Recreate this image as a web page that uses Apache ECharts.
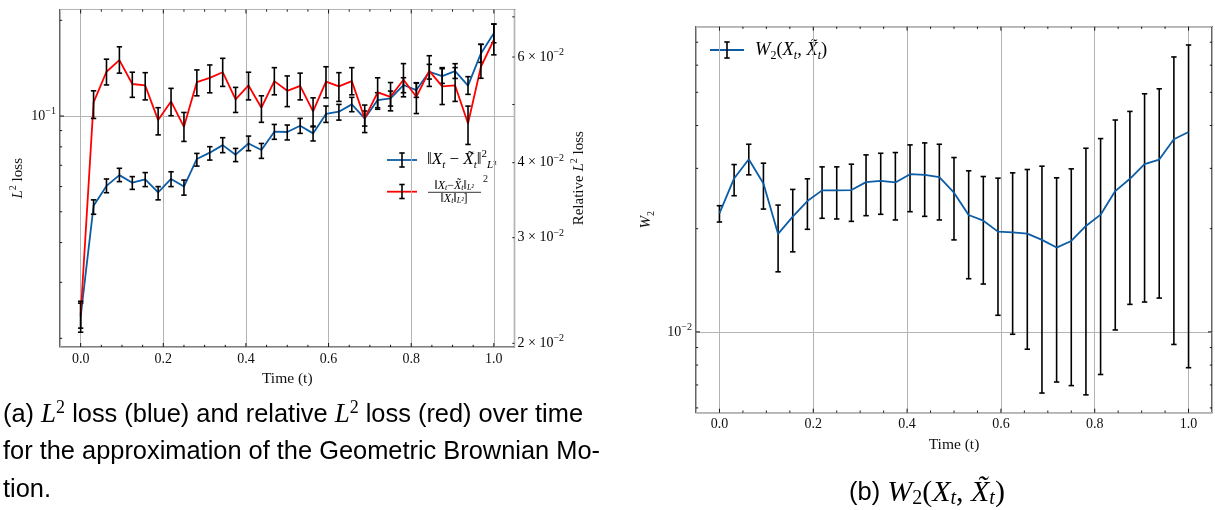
<!DOCTYPE html>
<html>
<head>
<meta charset="utf-8">
<script src="https://cdn.jsdelivr.net/npm/echarts@6/dist/echarts.min.js"></script>
<style>
html, body { margin: 0; padding: 0; background: #fff; }
#main { width: 1215px; height: 510px; }
</style>
</head>
<body>
<div id="main"></div>
<script>
// time grid t = k/32
var times = [0, 0.03125, 0.0625, 0.09375, 0.125, 0.15625, 0.1875, 0.21875, 0.25, 0.28125,
    0.3125, 0.34375, 0.375, 0.40625, 0.4375, 0.46875, 0.5, 0.53125, 0.5625, 0.59375,
    0.625, 0.65625, 0.6875, 0.71875, 0.75, 0.78125, 0.8125, 0.84375, 0.875, 0.90625,
    0.9375, 0.96875, 1];

// (a) L2 loss (blue, left axis)
var l2Loss = [0.0234, 0.0522, 0.0603, 0.0652, 0.0617, 0.0632, 0.0575, 0.0634, 0.0600, 0.0733,
    0.0767, 0.0810, 0.0756, 0.0820, 0.0782, 0.0893, 0.0891, 0.0932, 0.0882, 0.1015,
    0.1032, 0.1088, 0.0983, 0.1123, 0.1137, 0.1252, 0.1207, 0.1378, 0.1336, 0.1385,
    0.1246, 0.1574, 0.1820];
var l2Lo = [0.0209, 0.0491, 0.0574, 0.0622, 0.0588, 0.0600, 0.0545, 0.0600, 0.0564, 0.0696,
    0.0727, 0.0767, 0.0719, 0.0778, 0.0736, 0.0845, 0.0841, 0.0882, 0.0835, 0.0955,
    0.0971, 0.1032, 0.0930, 0.1062, 0.1075, 0.1184, 0.1145, 0.1307, 0.1267, 0.1313,
    0.1170, 0.1475, 0.1700];
var l2Hi = [0.0258, 0.0545, 0.0634, 0.0685, 0.0645, 0.0664, 0.0600, 0.0668, 0.0629, 0.0763,
    0.0801, 0.0855, 0.0791, 0.0865, 0.0820, 0.0941, 0.0937, 0.0983, 0.0930, 0.1075,
    0.1088, 0.1145, 0.1037, 0.1184, 0.1198, 0.1320, 0.1273, 0.1454, 0.1409, 0.1461,
    0.1330, 0.1680, 0.1946];

// (a) relative L2 loss (red, right axis)
var relLoss = [0.0223, 0.0504, 0.0567, 0.0593, 0.0541, 0.0538, 0.0471, 0.0506, 0.0459, 0.0545,
    0.0554, 0.0566, 0.0510, 0.0538, 0.0494, 0.0547, 0.0527, 0.0537, 0.0487, 0.0546,
    0.0536, 0.0547, 0.0474, 0.0524, 0.0515, 0.0550, 0.0515, 0.0569, 0.0536, 0.0538,
    0.0465, 0.0578, 0.0641];
var relLo = [0.0212, 0.0474, 0.0539, 0.0564, 0.0514, 0.0509, 0.0445, 0.0479, 0.0434, 0.0517,
    0.0523, 0.0536, 0.0485, 0.0509, 0.0467, 0.0519, 0.0496, 0.0509, 0.0459, 0.0513,
    0.0506, 0.0519, 0.0449, 0.0491, 0.0488, 0.0515, 0.0483, 0.0536, 0.0500, 0.0506,
    0.0429, 0.0553, 0.0605];
var relHi = [0.0235, 0.0527, 0.0595, 0.0624, 0.0566, 0.0565, 0.0494, 0.0532, 0.0485, 0.0571,
    0.0582, 0.0597, 0.0534, 0.0566, 0.0517, 0.0576, 0.0558, 0.0564, 0.0513, 0.0578,
    0.0565, 0.0576, 0.0499, 0.0554, 0.0544, 0.0585, 0.0543, 0.0603, 0.0576, 0.0576,
    0.0497, 0.0630, 0.0681];

// (b) W2 distance
var w2 = [0.02218, 0.02803, 0.0319, 0.02711, 0.01931, 0.02169, 0.02408, 0.02587, 0.02587, 0.02593,
    0.02735, 0.02759, 0.02729, 0.02885, 0.02873, 0.02828, 0.02547, 0.02193, 0.02111, 0.01961,
    0.01952, 0.01934, 0.01855, 0.01762, 0.01842, 0.02037, 0.02198, 0.02575, 0.02797, 0.03085,
    0.03183, 0.03647, 0.0383];
var w2Lo = [0.02092, 0.02496, 0.02872, 0.02282, 0.01497, 0.01712, 0.01992, 0.02145, 0.02135, 0.02101,
    0.02183, 0.02203, 0.02121, 0.02242, 0.02173, 0.02121, 0.01855, 0.01429, 0.01379, 0.01118,
    0.00984, 0.0089, 0.00663, 0.00714, 0.00697, 0.00655, 0.00751, 0.01013, 0.01203, 0.01222,
    0.01255, 0.00919, 0.00786];
var w2Hi = [0.02334, 0.03078, 0.03527, 0.03106, 0.02344, 0.02604, 0.02797, 0.0303, 0.0303, 0.03085,
    0.03284, 0.0332, 0.03336, 0.03512, 0.03559, 0.03527, 0.03226, 0.02951, 0.0284, 0.02809,
    0.02911, 0.02977, 0.03044, 0.02815, 0.0299, 0.03434, 0.03664, 0.04151, 0.04398, 0.04951,
    0.05119, 0.06341, 0.06872];

// ticks
var xMajor = [0, 0.2, 0.4, 0.6, 0.8, 1.0];
var xMinor = [0.05, 0.1, 0.15, 0.25, 0.3, 0.35, 0.45, 0.5, 0.55, 0.65, 0.7, 0.75, 0.85, 0.9, 0.95];
var l2Major = [0.1];
var l2Minor = [0.02, 0.03, 0.04, 0.05, 0.06, 0.07, 0.08, 0.09, 0.2];
var relMinor = [0.02, 0.03, 0.04, 0.05, 0.06, 0.07];
var relLabelVals = [0.02, 0.03, 0.04, 0.06];
var relLabelText = ['2', '3', '4', '6'];
var w2Major = [0.01];
var w2Minor = [0.006, 0.007, 0.008, 0.009, 0.02, 0.03, 0.04, 0.05, 0.06, 0.07];

var SERIF = '"Liberation Serif", "DejaVu Serif", serif';
var SANS = '"Liberation Sans", Arial, sans-serif';
var BLUE = '#0C5DA5';
var RED = '#FF0000';
var TXT = '#111';

var tickRich = {
    n: { fontFamily: SERIF, fontSize: 14, lineHeight: 19, color: TXT },
    i: { fontFamily: SERIF, fontSize: 14, fontStyle: 'italic', lineHeight: 19, color: TXT },
    sp: { fontFamily: SERIF, fontSize: 10, lineHeight: 10, verticalAlign: 'top', color: TXT },
    sb: { fontFamily: SERIF, fontSize: 10, lineHeight: 11, verticalAlign: 'bottom', color: TXT },
    sbi: { fontFamily: SERIF, fontSize: 10, fontStyle: 'italic', lineHeight: 11, verticalAlign: 'bottom', color: TXT }
};
var nameRich = {
    n: { fontFamily: SERIF, fontSize: 15, lineHeight: 20, color: TXT },
    i: { fontFamily: SERIF, fontSize: 15, fontStyle: 'italic', lineHeight: 20, color: TXT },
    sp: { fontFamily: SERIF, fontSize: 10, lineHeight: 10, verticalAlign: 'top', color: TXT },
    sb: { fontFamily: SERIF, fontSize: 10, lineHeight: 11, verticalAlign: 'bottom', color: TXT }
};
var legRich = {
    n: { fontFamily: SERIF, fontSize: 17, lineHeight: 22, color: TXT },
    i: { fontFamily: SERIF, fontSize: 17, fontStyle: 'italic', lineHeight: 22, color: TXT },
    sp: { fontFamily: SERIF, fontSize: 11, lineHeight: 11, verticalAlign: 'top', color: TXT },
    sb: { fontFamily: SERIF, fontSize: 11, lineHeight: 12, verticalAlign: 'bottom', color: TXT },
    sbi: { fontFamily: SERIF, fontSize: 11, fontStyle: 'italic', lineHeight: 12, verticalAlign: 'bottom', color: TXT }
};
var legRichB = {
    n: { fontFamily: SERIF, fontSize: 18.5, lineHeight: 23, color: TXT },
    i: { fontFamily: SERIF, fontSize: 18.5, fontStyle: 'italic', lineHeight: 23, color: TXT },
    sb: { fontFamily: SERIF, fontSize: 12, lineHeight: 12, verticalAlign: 'bottom', color: TXT },
    sbi: { fontFamily: SERIF, fontSize: 12, fontStyle: 'italic', lineHeight: 12, verticalAlign: 'bottom', color: TXT }
};
var fracRich = {
    n: { fontFamily: SERIF, fontSize: 12, lineHeight: 13, color: TXT },
    i: { fontFamily: SERIF, fontSize: 12, fontStyle: 'italic', lineHeight: 13, color: TXT },
    sbi: { fontFamily: SERIF, fontSize: 8, fontStyle: 'italic', lineHeight: 8, verticalAlign: 'bottom', color: TXT }
};

function pairs(xs, ys) {
    return xs.map(function (x, i) { return [x, ys[i]]; });
}
function triples(xs, lo, hi) {
    return xs.map(function (x, i) { return [x, lo[i], hi[i]]; });
}

function renderErrorBar(params, api) {
    var top = api.coord([api.value(0), api.value(2)]);
    var bot = api.coord([api.value(0), api.value(1)]);
    var w = 2.7;
    var st = { stroke: '#000', lineWidth: 1.6 };
    return {
        type: 'group',
        children: [
            { type: 'line', shape: { x1: top[0], y1: top[1], x2: bot[0], y2: bot[1] }, style: st },
            { type: 'line', shape: { x1: top[0] - w, y1: top[1], x2: top[0] + w, y2: top[1] }, style: st },
            { type: 'line', shape: { x1: bot[0] - w, y1: bot[1], x2: bot[0] + w, y2: bot[1] }, style: st }
        ]
    };
}

function xTickSeries(ai, yRef) {
    var data = xMajor.map(function (v) { return [v, yRef, 1]; })
        .concat(xMinor.map(function (v) { return [v, yRef, 0]; }));
    return {
        type: 'custom', xAxisIndex: ai, yAxisIndex: ai === 0 ? 0 : 2, silent: true, z: 20,
        data: data,
        renderItem: function (params, api) {
            var cs = params.coordSys;
            var x = api.coord([api.value(0), api.value(1)])[0];
            var len = api.value(2) ? 4 : 2.2;
            var st = { stroke: '#000', lineWidth: 0.9 };
            var b = cs.y + cs.height;
            return {
                type: 'group',
                children: [
                    { type: 'line', shape: { x1: x, y1: b, x2: x, y2: b - len }, style: st },
                    { type: 'line', shape: { x1: x, y1: cs.y, x2: x, y2: cs.y + len }, style: st }
                ]
            };
        }
    };
}

function yTickSeries(xi, yi, major, minor, sides, labelVals, labelText) {
    var data = major.map(function (v) { return [0.5, v, 1]; })
        .concat(minor.map(function (v) { return [0.5, v, 0]; }));
    return {
        type: 'custom', xAxisIndex: xi, yAxisIndex: yi, silent: true, z: 20,
        data: data,
        renderItem: function (params, api) {
            var cs = params.coordSys;
            var v = api.value(1);
            var y = api.coord([api.value(0), v])[1];
            var len = api.value(2) ? 4 : 2.2;
            var st = { stroke: '#000', lineWidth: 0.9 };
            var kids = [];
            if (sides.indexOf('left') >= 0) {
                kids.push({ type: 'line', shape: { x1: cs.x, y1: y, x2: cs.x + len, y2: y }, style: st });
            }
            if (sides.indexOf('right') >= 0) {
                var r = cs.x + cs.width;
                kids.push({ type: 'line', shape: { x1: r, y1: y, x2: r - len, y2: y }, style: st });
            }
            if (labelVals) {
                for (var k = 0; k < labelVals.length; k++) {
                    if (Math.abs(labelVals[k] - v) < 1e-9) {
                        kids.push({
                            type: 'text', x: cs.x + cs.width + 3, y: y,
                            style: {
                                text: '{n|' + labelText[k] + ' × 10}{sp|−2}', rich: tickRich,
                                align: 'left', verticalAlign: 'middle',
                                textAlign: 'left', textVerticalAlign: 'middle'
                            }
                        });
                    }
                }
            }
            return { type: 'group', children: kids };
        }
    };
}

function xAxisCfg(gi, gap) {
    return {
        type: 'value', gridIndex: gi, min: -0.05, max: 1.05,
        axisLine: { show: false }, axisTick: { show: false },
        splitLine: { show: true, lineStyle: { color: '#b4b4b4', width: 1 } },
        axisLabel: {
            margin: 5, color: TXT, fontFamily: SERIF, fontSize: 14,
            formatter: function (v) {
                if (Math.abs(v * 5 - Math.round(v * 5)) > 1e-6) return '';
                return v.toFixed(1);
            }
        },
        name: 'Time (t)', nameLocation: 'middle', nameGap: gap,
        nameTextStyle: { color: TXT, fontFamily: SERIF, fontSize: 15.5 }
    };
}

function logLabel(v) {
    var e = Math.log10(v);
    if (Math.abs(e - Math.round(e)) > 1e-6) return '';
    return '{n|10}{sp|−' + Math.abs(Math.round(e)) + '}';
}

var option = {
    animation: false,
    backgroundColor: '#fff',
    grid: [
        { left: 60, top: 9.5, width: 454.5, height: 337.5, show: true, borderColor: '#000', borderWidth: 1.2, backgroundColor: 'transparent' },
        { left: 696, top: 26.7, width: 518, height: 386, show: true, borderColor: '#000', borderWidth: 1.2, backgroundColor: 'transparent' }
    ],
    xAxis: [xAxisCfg(0, 14), xAxisCfg(1, 21)],
    yAxis: [
        {
            type: 'log', logBase: 10, gridIndex: 0, min: 0.01878, max: 0.2163,
            axisLine: { show: false }, axisTick: { show: false },
            splitLine: { show: true, lineStyle: { color: '#b4b4b4', width: 1 } },
            axisLabel: { margin: 4, formatter: logLabel, rich: tickRich },
            name: '{i|L}{sp|2}{n| loss}', nameLocation: 'middle', nameGap: 32, nameRotate: 90,
            nameTextStyle: { rich: nameRich }
        },
        {
            type: 'log', logBase: 10, gridIndex: 0, position: 'right', min: 0.01972, max: 0.0720,
            axisLine: { show: false }, axisTick: { show: false }, axisLabel: { show: false },
            splitLine: { show: false },
            name: '{n|Relative }{i|L}{sp|2}{n| loss}', nameLocation: 'middle', nameGap: 55, nameRotate: 90,
            nameTextStyle: { rich: nameRich }
        },
        {
            type: 'log', logBase: 10, gridIndex: 1, min: 0.00581, max: 0.0777,
            axisLine: { show: false }, axisTick: { show: false },
            splitLine: { show: true, lineStyle: { color: '#b4b4b4', width: 1 } },
            axisLabel: { margin: 4, formatter: logLabel, rich: tickRich },
            name: '{i|W}{sb|2}', nameLocation: 'middle', nameGap: 40, nameRotate: 90,
            nameTextStyle: { rich: nameRich }
        }
    ],
    series: [
        {
            name: 'l2', type: 'line', xAxisIndex: 0, yAxisIndex: 0, data: pairs(times, l2Loss),
            showSymbol: false, lineStyle: { color: BLUE, width: 1.8 }, itemStyle: { color: BLUE }, z: 2
        },
        {
            type: 'custom', xAxisIndex: 0, yAxisIndex: 0, data: triples(times, l2Lo, l2Hi),
            encode: { x: 0, y: [1, 2] }, renderItem: renderErrorBar, z: 3
        },
        {
            name: 'rel', type: 'line', xAxisIndex: 0, yAxisIndex: 1, data: pairs(times, relLoss),
            showSymbol: false, lineStyle: { color: RED, width: 1.8 }, itemStyle: { color: RED }, z: 4
        },
        {
            type: 'custom', xAxisIndex: 0, yAxisIndex: 1, data: triples(times, relLo, relHi),
            encode: { x: 0, y: [1, 2] }, renderItem: renderErrorBar, z: 5
        },
        {
            name: 'w2', type: 'line', xAxisIndex: 1, yAxisIndex: 2, data: pairs(times, w2),
            showSymbol: false, lineStyle: { color: BLUE, width: 1.8 }, itemStyle: { color: BLUE }, z: 4
        },
        {
            type: 'custom', xAxisIndex: 1, yAxisIndex: 2, data: triples(times, w2Lo, w2Hi),
            encode: { x: 0, y: [1, 2] }, renderItem: renderErrorBar, z: 3
        },
        xTickSeries(0, 0.05),
        xTickSeries(1, 0.02),
        yTickSeries(0, 0, l2Major, l2Minor, ['left']),
        yTickSeries(0, 1, [], relMinor, ['right'], relLabelVals, relLabelText),
        yTickSeries(1, 2, w2Major, w2Minor, ['left', 'right'])
    ],
    graphic: [
        // legend (a)
        { type: 'line', shape: { x1: 387, y1: 160, x2: 417, y2: 160 }, style: { stroke: BLUE, lineWidth: 1.8 } },
        { type: 'line', shape: { x1: 402, y1: 153, x2: 402, y2: 167 }, style: { stroke: '#000', lineWidth: 1.6 } },
        { type: 'line', shape: { x1: 399.3, y1: 153, x2: 404.7, y2: 153 }, style: { stroke: '#000', lineWidth: 1.6 } },
        { type: 'line', shape: { x1: 399.3, y1: 167, x2: 404.7, y2: 167 }, style: { stroke: '#000', lineWidth: 1.6 } },
        {
            type: 'text', x: 427, y: 160,
            style: {
                text: '{n|‖}{i|X}{sbi|t}{n| − }{i|X̃}{sbi|t}{n|‖}{sp|2}{sbi|L}{sb|²}', rich: legRich,
                align: 'left', verticalAlign: 'middle', textAlign: 'left', textVerticalAlign: 'middle'
            }
        },
        { type: 'line', shape: { x1: 387, y1: 191.7, x2: 417, y2: 191.7 }, style: { stroke: RED, lineWidth: 1.8 } },
        { type: 'line', shape: { x1: 402, y1: 184.5, x2: 402, y2: 198.5 }, style: { stroke: '#000', lineWidth: 1.6 } },
        { type: 'line', shape: { x1: 399.3, y1: 184.5, x2: 404.7, y2: 184.5 }, style: { stroke: '#000', lineWidth: 1.6 } },
        { type: 'line', shape: { x1: 399.3, y1: 198.5, x2: 404.7, y2: 198.5 }, style: { stroke: '#000', lineWidth: 1.6 } },
        {
            type: 'text', x: 454, y: 185.5,
            style: {
                text: '{n|‖}{i|X}{sbi|t}{n|−}{i|X̃}{sbi|t}{n|‖}{sbi|L²}', rich: fracRich,
                align: 'center', verticalAlign: 'middle', textAlign: 'center', textVerticalAlign: 'middle'
            }
        },
        { type: 'line', shape: { x1: 428, y1: 192.3, x2: 481, y2: 192.3 }, style: { stroke: '#000', lineWidth: 0.8 } },
        {
            type: 'text', x: 454, y: 198.5,
            style: {
                text: '{n|‖}{i|X}{sbi|t}{n|‖}{sbi|L²}{n|]}', rich: fracRich,
                align: 'center', verticalAlign: 'middle', textAlign: 'center', textVerticalAlign: 'middle'
            }
        },
        {
            type: 'text', x: 483, y: 179,
            style: {
                text: '2', fontFamily: SERIF, fontSize: 10, fill: TXT,
                align: 'left', verticalAlign: 'middle', textAlign: 'left', textVerticalAlign: 'middle'
            }
        },
        // legend (b)
        { type: 'line', shape: { x1: 710, y1: 50, x2: 744, y2: 50 }, style: { stroke: BLUE, lineWidth: 1.8 } },
        { type: 'line', shape: { x1: 727, y1: 42, x2: 727, y2: 58 }, style: { stroke: '#000', lineWidth: 1.6 } },
        { type: 'line', shape: { x1: 724.3, y1: 42, x2: 729.7, y2: 42 }, style: { stroke: '#000', lineWidth: 1.6 } },
        { type: 'line', shape: { x1: 724.3, y1: 58, x2: 729.7, y2: 58 }, style: { stroke: '#000', lineWidth: 1.6 } },
        {
            type: 'text', x: 755, y: 50,
            style: {
                text: '{i|W}{sb|2}{n|(}{i|X}{sbi|t}{n|, }{i|X̃}{sbi|t}{n|)}', rich: legRichB,
                align: 'left', verticalAlign: 'middle', textAlign: 'left', textVerticalAlign: 'middle'
            }
        },
        // captions
        {
            type: 'text', x: 3, y: 415,
            style: {
                text: '{t|(a) }{m|L}{ms|2}{t| loss (blue) and relative }{m|L}{ms|2}{t| loss (red) over time}',
                rich: {
                    t: { fontFamily: SANS, fontSize: 25.4, lineHeight: 32, color: '#000' },
                    m: { fontFamily: SERIF, fontSize: 27, fontStyle: 'italic', lineHeight: 32, color: '#000' },
                    ms: { fontFamily: SERIF, fontSize: 18, lineHeight: 17, verticalAlign: 'top', color: '#000' }
                },
                align: 'left', verticalAlign: 'middle', textAlign: 'left', textVerticalAlign: 'middle'
            }
        },
        {
            type: 'text', x: 3, y: 452,
            style: {
                text: 'for the approximation of the Geometric Brownian Mo-', fontFamily: SANS, fontSize: 25.4, fill: '#000',
                align: 'left', verticalAlign: 'middle', textAlign: 'left', textVerticalAlign: 'middle'
            }
        },
        {
            type: 'text', x: 3, y: 490,
            style: {
                text: 'tion.', fontFamily: SANS, fontSize: 25.4, fill: '#000',
                align: 'left', verticalAlign: 'middle', textAlign: 'left', textVerticalAlign: 'middle'
            }
        },
        {
            type: 'text', x: 927, y: 493,
            style: {
                text: '{t|(b) }{m|W}{mb|2}{n|(}{m|X}{mbi|t}{n|, }{m|X̃}{mbi|t}{n|)}',
                rich: {
                    t: { fontFamily: SANS, fontSize: 25.4, lineHeight: 32, color: '#000' },
                    n: { fontFamily: SERIF, fontSize: 30, lineHeight: 32, color: '#000' },
                    m: { fontFamily: SERIF, fontSize: 30, fontStyle: 'italic', lineHeight: 32, color: '#000' },
                    mb: { fontFamily: SERIF, fontSize: 20, lineHeight: 20, verticalAlign: 'bottom', color: '#000' },
                    mbi: { fontFamily: SERIF, fontSize: 20, fontStyle: 'italic', lineHeight: 20, verticalAlign: 'bottom', color: '#000' }
                },
                align: 'center', verticalAlign: 'middle', textAlign: 'center', textVerticalAlign: 'middle'
            }
        }
    ]
};

var chart = echarts.init(document.getElementById('main'), null, { renderer: 'canvas' });
chart.setOption(option);
</script>
</body>
</html>
